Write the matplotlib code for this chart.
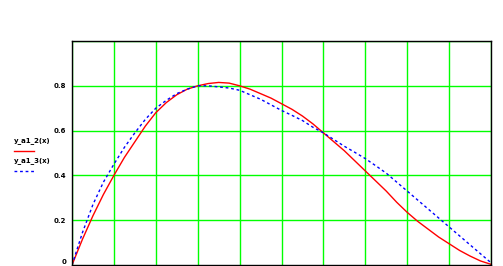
import matplotlib
matplotlib.use("Agg")
import matplotlib.pyplot as plt
from matplotlib.lines import Line2D

x_red = [0, 0.25, 0.5, 0.75, 1, 1.25, 1.5, 1.75, 2, 2.25, 2.5, 2.75, 3, 3.25, 3.5, 3.75,
         4, 4.25, 4.5, 4.75, 5, 5.25, 5.5, 5.75, 6, 6.25, 6.5, 6.75, 7, 7.25, 7.5, 7.75,
         8, 8.25, 8.5, 8.75, 9, 9.25, 9.5, 9.75, 10]
y_red = [0, 0.115, 0.22, 0.315, 0.40, 0.48, 0.55, 0.62, 0.68, 0.725, 0.76, 0.785, 0.80,
         0.81, 0.815, 0.812, 0.80, 0.785, 0.765, 0.745, 0.72, 0.695, 0.665, 0.63, 0.59,
         0.55, 0.51, 0.465, 0.42, 0.375, 0.33, 0.28, 0.235, 0.195, 0.16, 0.125, 0.095,
         0.065, 0.04, 0.018, 0.003]
x_blue = [0, 0.25, 0.5, 0.75, 1, 1.25, 1.5, 1.75, 2, 2.25, 2.5, 2.75, 3, 3.25, 3.5, 3.75,
          4, 4.25, 4.5, 4.75, 5, 5.25, 5.5, 5.75, 6, 6.25, 6.5, 6.75, 7, 7.25, 7.5, 7.75,
          8, 8.25, 8.5, 8.75, 9, 9.25, 9.5, 9.75, 10]
y_blue = [0, 0.145, 0.27, 0.37, 0.45, 0.525, 0.59, 0.65, 0.70, 0.735, 0.765, 0.785, 0.80,
          0.80, 0.795, 0.79, 0.78, 0.76, 0.74, 0.715, 0.69, 0.668, 0.645, 0.615, 0.59,
          0.56, 0.53, 0.503, 0.475, 0.443, 0.41, 0.37, 0.33, 0.29, 0.25, 0.21, 0.17,
          0.13, 0.09, 0.05, 0.01]
y_tick_labels = ["0", "0.2", "0.4", "0.6", "0.8"]
legend_labels = ["y_a1_2(x)", "y_a1_3(x)"]

fig = plt.figure(figsize=(5.03, 2.66), dpi=100)
ax = fig.add_axes([72/503, 1/266, 419/503, 224/266])

ax.set_xlim(0, 10)
ax.set_ylim(0, 1)
ax.set_xticks(range(0, 11))
ax.set_yticks([0.2, 0.4, 0.6, 0.8, 1.0])
ax.grid(True, color="#00ff00", linewidth=1)
ax.set_axisbelow(True)
ax.tick_params(length=0, labelbottom=False)
ax.set_yticklabels(y_tick_labels[1:] + [""], fontsize=5, fontweight="bold")
ax.tick_params(axis="y", pad=4)
# zero label sits at the very bottom edge
ax.text(-0.014, 0, y_tick_labels[0], transform=ax.get_yaxis_transform(),
        fontsize=5, fontweight="bold", ha="right", va="bottom")
for s in ax.spines.values():
    s.set_color("black")
    s.set_linewidth(1)

ax.plot(x_red, y_red, color="red", linewidth=1)
ax.plot(x_blue, y_blue, color="blue", linewidth=1, linestyle=(0, (2, 2)))

# legend at left, Mathcad style
fig.text(14/503, 1 - 141/266, legend_labels[0], fontsize=5, fontweight="bold", va="center", ha="left")
fig.add_artist(Line2D([14/503, 34/503], [1 - 151/266, 1 - 151/266], color="red", linewidth=1))
fig.text(14/503, 1 - 161/266, legend_labels[1], fontsize=5, fontweight="bold", va="center", ha="left")
fig.add_artist(Line2D([14/503, 34/503], [1 - 171/266, 1 - 171/266], color="blue", linewidth=1,
                      linestyle=(0, (2, 2))))

fig.savefig("out.png", dpi=100)
